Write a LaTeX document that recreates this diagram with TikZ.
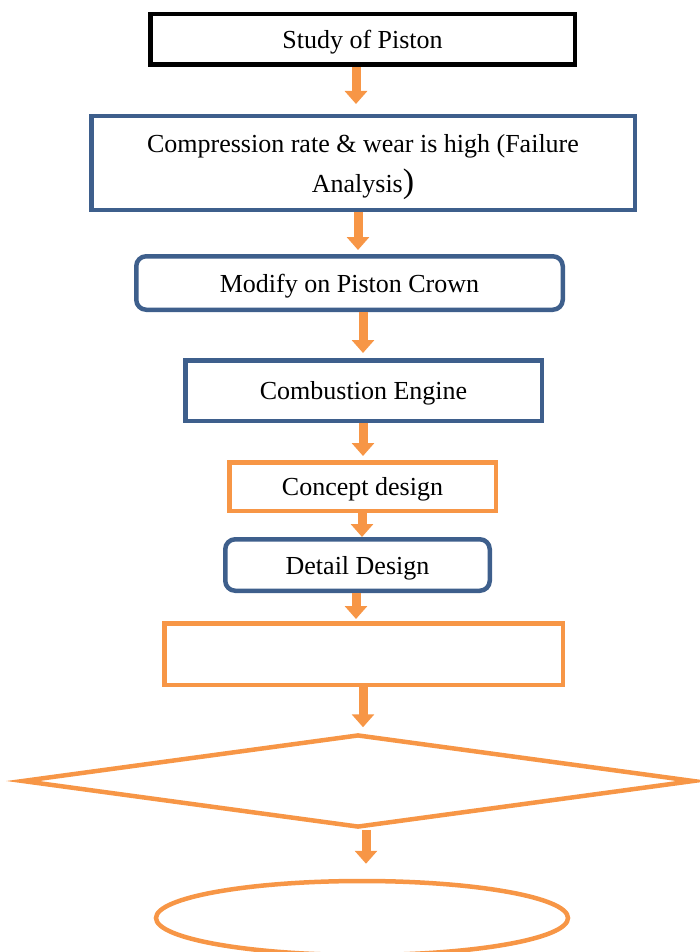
\documentclass[tikz,border=0pt]{standalone}
\usepackage{fontspec}
\setmainfont{Liberation Serif}
\usepackage{xcolor}
\usepackage{tikz}
\usetikzlibrary{shapes.geometric,arrows.meta}
\definecolor{flowblue}{RGB}{62,95,140}
\definecolor{floworange}{RGB}{247,150,70}

\begin{document}
\begin{tikzpicture}[x=1pt,y=-1pt,
		box/.style={draw, rectangle, line width=4.5pt, fill=white, inner sep=0pt, text depth=0pt,
			align=center, font=\fontsize{26}{40}\selectfont},
		bluebox/.style={box, draw=flowblue},
		orangebox/.style={box, draw=floworange},
		flowarrow/.style={floworange, line width=9pt, -{Triangle[width=22pt,length=13pt]}}]
				\useasboundingbox (0,0) rectangle (700,952);
				
				% boxes, top to bottom
				\node[box, draw=black, minimum width=424.5, minimum height=50.5] (study) at (362.5,39.5) {Study of Piston};
				\node[bluebox, minimum width=543.5, minimum height=93.5] (comp) at (363,163)
					{Compression rate \& wear is high (Failure\\Analysis{\fontsize{34}{34}\selectfont)}};
				\node[bluebox, rounded corners=10pt, minimum width=426.5, minimum height=53.5] (modify) at (349.5,283) {Modify on Piston Crown};
				\node[bluebox, minimum width=356.5, minimum height=60.5] (engine) at (363.5,390.5) {Combustion Engine};
				\node[orangebox, minimum width=266.5, minimum height=48.5] (concept) at (362.5,486.5) {Concept design};
				\node[bluebox, rounded corners=10pt, minimum width=264.5, minimum height=51.5] (detail) at (357.5,565) {Detail Design};
				\node[orangebox, minimum width=398.5, minimum height=61.5] (result) at (363.5,654) {};
				
				% decision and end
				\node[orangebox, diamond, minimum width=672, minimum height=93] (check) at (358,781) {};
				\node[orangebox, ellipse, minimum width=412, minimum height=74] (finish) at (362,918) {};
				
				\foreach \a/\b/\sa/\sb/\gap in
				{study/comp/-6.5/-7/10, comp/modify/-5/8.5/4, modify/engine/13.5/-0.5/5,
				 engine/concept/-0.5/0.5/4, concept/detail/-0.5/4.5/0, detail/result/-1.5/-7.5/2,
				 result/check/-0.5/5/5, check/finish/8/4/15}{
					\draw[flowarrow, shorten >=\gap pt] ([xshift=\sa pt]\a.south) -- ([xshift=\sb pt]\b.north);
				}
			\end{tikzpicture}
\end{document}
